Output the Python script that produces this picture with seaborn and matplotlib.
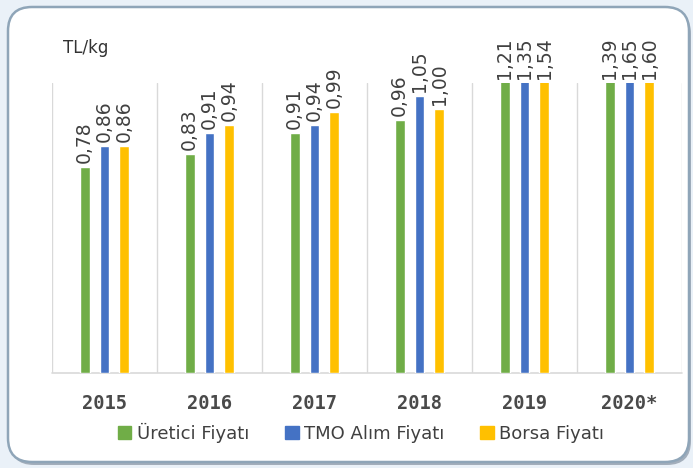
import pandas as pd
import matplotlib.pyplot as plt
import matplotlib.transforms as mtransforms
from matplotlib.patches import FancyBboxPatch
import seaborn as sns

# Data (TL/kg)
years = ["2015", "2016", "2017", "2018", "2019", "2020*"]
series = ["Üretici Fiyatı", "TMO Alım Fiyatı", "Borsa Fiyatı"]
uretici = [0.78, 0.83, 0.91, 0.96, 1.21, 1.39]
tmo = [0.86, 0.91, 0.94, 1.05, 1.35, 1.65]
borsa = [0.86, 0.94, 0.99, 1.00, 1.54, 1.60]
colors = ["#70AD47", "#4472C4", "#FFC000"]
y_max = 1.10

df = pd.DataFrame({
    "year": years * 3,
    "series": [series[0]] * 6 + [series[1]] * 6 + [series[2]] * 6,
    "value": uretici + tmo + borsa,
})

sns.set_style("white")
plt.rcParams["font.family"] = ["DejaVu Sans"]

fig = plt.figure(figsize=(6.93, 4.68), dpi=100, facecolor="#eaf1f8")

# rounded frame with a soft shadow, in pixel coordinates
px = mtransforms.IdentityTransform()
shadow = FancyBboxPatch((10, 3), 681, 455, boxstyle="round,pad=0,rounding_size=24",
                        transform=px, facecolor="#a3aebb", edgecolor="none", zorder=0)
frame = FancyBboxPatch((8, 6), 681, 455, boxstyle="round,pad=0,rounding_size=24",
                       transform=px, facecolor="white", edgecolor="#8fa5b8",
                       linewidth=1.8, zorder=1)
fig.patches.extend([shadow, frame])

ax = fig.add_axes([52 / 693, 95 / 468, 630 / 693, 290 / 468])
ax.set_facecolor("none")
ax.set_zorder(2)

sns.barplot(data=df, x="year", y="value", hue="series", hue_order=series,
            palette=colors, width=0.57, gap=0.5, saturation=1, legend=False,
            errorbar=None, ax=ax)

ax.set_xlim(-0.5, len(years) - 0.5)
ax.set_ylim(0, y_max)

# separators between years and baseline
for b in range(len(years) + 1):
    ax.axvline(b - 0.5, color="#d9d9d9", linewidth=1, zorder=0)
ax.axhline(0, color="#d9d9d9", linewidth=1.2, zorder=0, clip_on=False)

# value labels, placed above the bar or above the top edge when clipped
for container, vals in zip(ax.containers, [uretici, tmo, borsa]):
    for patch, v in zip(container.patches, vals):
        xc = patch.get_x() + patch.get_width() / 2
        ax.annotate(f"{v:.2f}".replace(".", ","), (xc, min(v, y_max)),
                    xytext=(0, 3), textcoords="offset points",
                    rotation=90, ha="center", va="bottom",
                    fontsize=13.5, color="#404040", annotation_clip=False)

for s in ax.spines.values():
    s.set_visible(False)
ax.set_yticks([])
ax.set_xlabel("")
ax.set_ylabel("")
ax.tick_params(axis="x", length=0, pad=15)
ax.set_xticks(range(len(years)))
ax.set_xticklabels(years, fontfamily="DejaVu Sans Mono", fontweight="bold",
                   fontsize=13.5, color="#4a4a4a")

fig.text(63 / 693, 1 - 48 / 468, "TL/kg", fontsize=12, color="#333333",
         va="center", ha="left")

handles = [plt.Rectangle((0, 0), 1, 1, color=c) for c in colors]
fig.legend(handles, series, loc="center", bbox_to_anchor=(361 / 693, 1 - 433 / 468),
           ncol=3, frameon=False, fontsize=13, handlelength=0.75,
           handleheight=0.75, handletextpad=0.3, columnspacing=2.0,
           labelcolor="#404040")

fig.savefig("out.png", dpi=100, facecolor=fig.get_facecolor())
